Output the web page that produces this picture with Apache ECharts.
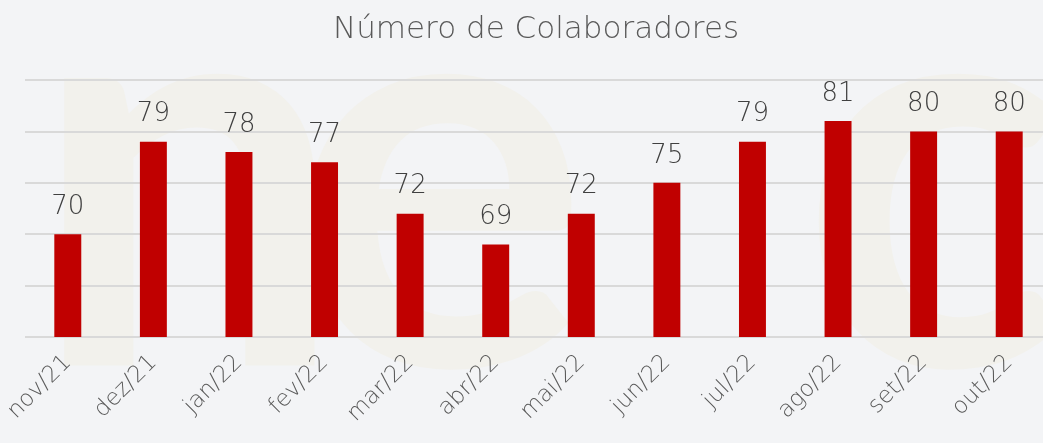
<!DOCTYPE html>
<html>
<head>
<meta charset="utf-8">
<script src="https://cdn.jsdelivr.net/npm/echarts@6/dist/echarts.min.js"></script>
<style>
  html, body { margin: 0; padding: 0; background: #f3f4f6; }
  #chart { width: 1043px; height: 443px; }
</style>
</head>
<body>
<div id="chart"></div>
<script>
var meses = ["nov/21", "dez/21", "jan/22", "fev/22", "mar/22", "abr/22",
             "mai/22", "jun/22", "jul/22", "ago/22", "set/22", "out/22"];
var colaboradores = [70, 79, 78, 77, 72, 69, 72, 75, 79, 81, 80, 80];

var fonte = "'DejaVu Sans', sans-serif";
var chart = echarts.init(document.getElementById("chart"));

// letra grande da marca d'agua
function marca(letra, x) {
    return {
        type: "text",
        left: x,
        top: -95,
        z: -10,
        silent: true,
        style: {
            text: letra,
            fill: "#f2f1ec",
            font: "bold 560px Lato, sans-serif"
        }
    };
}

var option = {
    backgroundColor: "#f3f4f6",
    animation: false,
    title: {
        text: "Número de Colaboradores",
        left: 328,
        top: 9,
        textStyle: {
            color: "#595959",
            fontFamily: fonte,
            fontWeight: 200,
            fontSize: 31
        }
    },
    graphic: [marca("n", 30), marca("e", 290), marca("c", 800)],
    grid: {
        left: 25,
        right: -9,
        top: 80,
        bottom: 106,
        outerBoundsMode: "none"
    },
    xAxis: {
        type: "category",
        data: meses,
        axisLine: { show: false },
        axisTick: { show: false },
        axisLabel: {
            rotate: 45,
            margin: 22,
            color: "#595959",
            fontFamily: fonte,
            fontWeight: 200,
            fontSize: 23
        }
    },
    yAxis: {
        type: "value",
        min: 60,
        max: 85,
        interval: 5,
        axisLabel: { show: false },
        axisLine: { show: false },
        axisTick: { show: false },
        splitLine: { lineStyle: { color: "#d9d9d9", width: 2 } }
    },
    series: [{
        type: "bar",
        data: colaboradores,
        barWidth: "31.5%",
        itemStyle: { color: "#c00000" },
        label: {
            show: true,
            position: "top",
            distance: 14,
            color: "#404040",
            fontFamily: fonte,
            fontWeight: 200,
            fontSize: 26
        }
    }]
};

chart.setOption(option);
</script>
</body>
</html>
